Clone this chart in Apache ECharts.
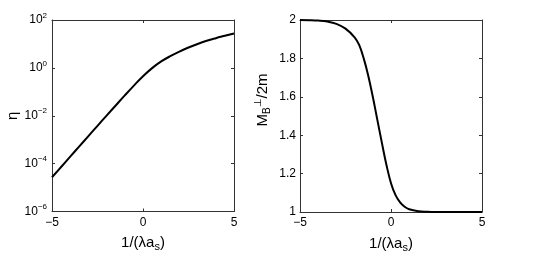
<!DOCTYPE html>
<html>
<head>
<meta charset="utf-8">
<script src="https://cdn.jsdelivr.net/npm/echarts@6/dist/echarts.min.js"></script>
<style>
html,body{margin:0;padding:0;background:#fff;}
#c{width:545px;height:260px;}
</style>
</head>
<body>
<div id="c"></div>
<script>
// x values: 1/(lambda a_s)
const xVals = [-5,-4.5,-4,-3.5,-3,-2.5,-2,-1.5,-1,-0.5,0,0.5,1,1.5,2,2.5,3,3.5,4,4.5,5];
// eta (left panel, log scale)
const etaVals = [2.69e-5,7.24e-5,1.95e-4,5.25e-4,1.41e-3,3.80e-3,1.02e-2,2.69e-2,7.08e-2,0.182,0.447,0.977,1.86,3.09,4.79,7.08,10.0,13.5,17.4,21.9,27.5];
// M_B/2m (right panel)
const xVals2 = [-5,-4.5,-4,-3.5,-3,-2.5,-2,-1.75,-1.5,-1.25,-1,-0.75,-0.5,-0.25,0,0.25,0.5,0.75,1,1.5,2,2.5,3,3.5,4,4.5,5];
const mVals = [2.0,1.999,1.997,1.992,1.98,1.955,1.91,1.87,1.80,1.71,1.60,1.48,1.36,1.245,1.15,1.088,1.05,1.027,1.014,1.004,1.001,1.0,1.0,1.0,1.0,1.0,1.0];
// tick labels
const xTicks = [-5,0,5];
const yTicksLog = [1e-6,1e-4,1e-2,1,1e2];
const yTicksLin = [1,1.2,1.4,1.6,1.8,2];

const FONT = 'Liberation Sans, Arial, Helvetica, sans-serif';
const AX = '#333';
const minus = v => (v < 0 ? '\u2212' + (-v) : String(v));

function xAxisDef(gridIndex, top) {
  return {
    type: 'value', gridIndex: gridIndex, min: xTicks[0], max: xTicks[xTicks.length-1], interval: 5,
    position: top ? 'top' : 'bottom',
    axisLine: {show: true, onZero: false, lineStyle: {color: AX, width: 1}},
    axisTick: {show: true, inside: true, length: 3, lineStyle: {color: AX}},
    axisLabel: {show: !top, color: '#000', fontSize: 12, fontFamily: FONT, margin: 5, formatter: minus},
    splitLine: {show: false},
    name: top ? '' : '{t|1/(\u03bba}{s|s}{t|)}',
    nameLocation: 'middle', nameGap: 22,
    nameTextStyle: {fontFamily: FONT, rich: {
      t: {fontSize: 15, fontFamily: FONT, color: '#000'},
      s: {fontSize: 11, fontFamily: FONT, color: '#000', padding: [8,0,0,0]}
    }}
  };
}
function yLine() {
  return {show: true, onZero: false, lineStyle: {color: AX, width: 1}};
}

const option = {
  animation: false,
  backgroundColor: '#fff',
  grid: [
    {left: 52, top: 20, width: 182, height: 191.5},
    {left: 300, top: 20, width: 182, height: 192}
  ],
  xAxis: [xAxisDef(0,false), xAxisDef(0,true), xAxisDef(1,false), xAxisDef(1,true)],
  yAxis: [
    {
      type: 'log', gridIndex: 0, logBase: 10, min: yTicksLog[0], max: yTicksLog[yTicksLog.length-1], interval: 2,
      position: 'left',
      axisLine: yLine(),
      axisTick: {show: true, inside: true, length: 3, lineStyle: {color: AX}},
      splitLine: {show: false},
      axisLabel: {
        color: '#000', fontFamily: FONT, margin: 5,
        formatter: v => {
          const e = Math.round(Math.log10(v));
          return '{b|10}{s|' + minus(e) + '}';
        },
        rich: {
          b: {fontSize: 12, fontFamily: FONT, color: '#000'},
          s: {fontSize: 8, fontFamily: FONT, color: '#000', padding: [0,0,9,0]}
        }
      },
      name: '\u03b7', nameLocation: 'middle', nameRotate: 90, nameGap: 30,
      nameTextStyle: {fontSize: 15, fontFamily: FONT, color: '#000'}
    },
    {
      type: 'log', gridIndex: 0, logBase: 10, min: yTicksLog[0], max: yTicksLog[yTicksLog.length-1], interval: 2,
      position: 'right',
      axisLine: yLine(),
      axisTick: {show: true, inside: true, length: 3, lineStyle: {color: AX}},
      splitLine: {show: false}, axisLabel: {show: false}
    },
    {
      type: 'value', gridIndex: 1, min: yTicksLin[0], max: yTicksLin[yTicksLin.length-1], interval: 0.2,
      position: 'left',
      axisLine: yLine(),
      axisTick: {show: true, inside: true, length: 3, lineStyle: {color: AX}},
      splitLine: {show: false},
      axisLabel: {color: '#000', fontSize: 12, fontFamily: FONT, margin: 4, formatter: v => String(+v.toFixed(1))}
    },
    {
      type: 'value', gridIndex: 1, min: yTicksLin[0], max: yTicksLin[yTicksLin.length-1], interval: 0.2,
      position: 'right',
      axisLine: yLine(),
      axisTick: {show: true, inside: true, length: 3, lineStyle: {color: AX}},
      splitLine: {show: false}, axisLabel: {show: false}
    }
  ],
  graphic: [{
    type: 'text', x: 263, y: 100, rotation: Math.PI/2,
    style: {
      text: 'M{b|B}{p|\u22a5}/2m',
      align: 'center', verticalAlign: 'middle',
      fontSize: 15, fontFamily: FONT, fill: '#000',
      rich: {
        b: {fontSize: 10, fontFamily: FONT, fill: '#000', padding: [8,0,0,0]},
        p: {fontSize: 10, fontFamily: FONT, fill: '#000', padding: [0,0,9,0]}
      }
    }
  }],
  series: [
    {
      type: 'line', xAxisIndex: 0, yAxisIndex: 0, showSymbol: false, smooth: 0.4,
      data: xVals.map((x,i) => [x, etaVals[i]]),
      lineStyle: {color: '#000', width: 2}, silent: true
    },
    {
      type: 'line', xAxisIndex: 2, yAxisIndex: 2, showSymbol: false, smooth: 0.4,
      data: xVals2.map((x,i) => [x, mVals[i]]),
      lineStyle: {color: '#000', width: 2}, silent: true
    }
  ]
};
const chart = echarts.init(document.getElementById('c'), null, {renderer: 'canvas'});
chart.setOption(option);
</script>
</body>
</html>
